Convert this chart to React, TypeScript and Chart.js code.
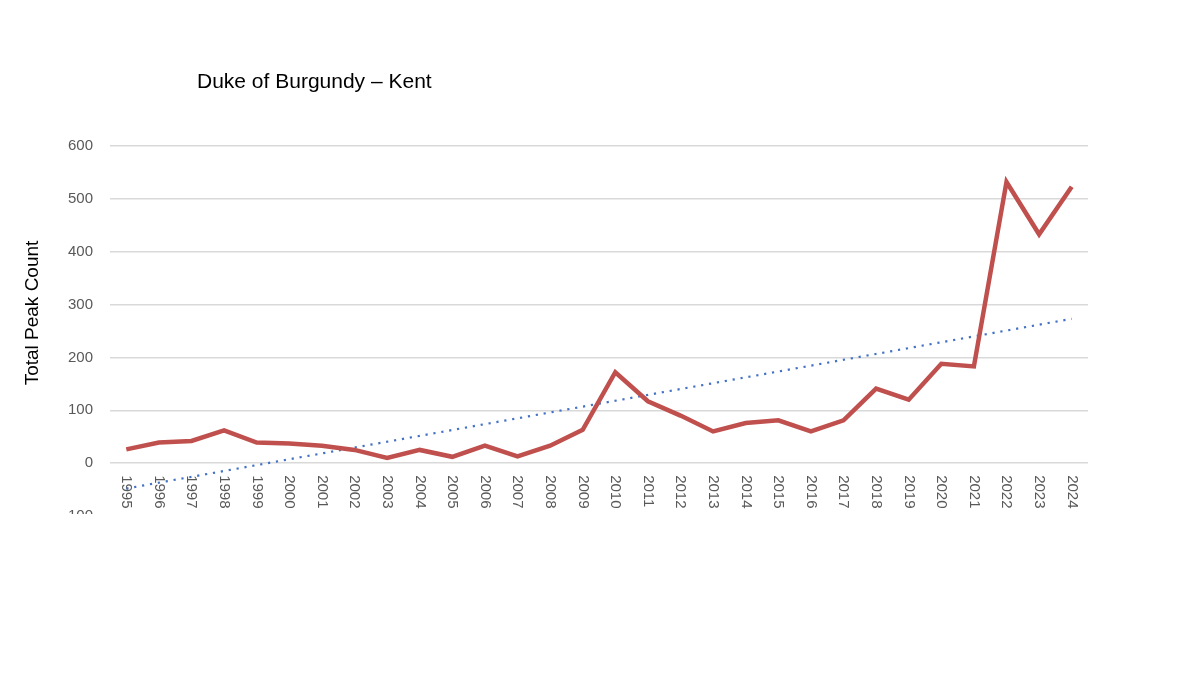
import React, { useEffect, useRef } from 'react';
import { Chart, registerables } from 'chart.js';

Chart.register(...registerables);

const years = [
  '1995', '1996', '1997', '1998', '1999', '2000', '2001', '2002', '2003', '2004',
  '2005', '2006', '2007', '2008', '2009', '2010', '2011', '2012', '2013', '2014',
  '2015', '2016', '2017', '2018', '2019', '2020', '2021', '2022', '2023', '2024',
];
const peakCounts = [
  26, 39, 42, 62, 39, 37, 33, 25, 10, 25,
  12, 33, 13, 33, 63, 172, 117, 90, 60, 76,
  81, 60, 81, 141, 120, 188, 183, 532, 433, 523,
];
// linear trend line, end points
const trendYears = ['1995', '2024'];
const trendValues = [-48, 273];

const chartTitle = 'Duke of Burgundy \u2013 Kent';
const yAxisTitle = 'Total Peak Count';

const labelFont = '15px "Liberation Sans", Arial, sans-serif';

const overlayPlugin = {
  id: 'overlay',
  beforeDatasetsDraw(chart: any) {
    const { ctx, scales } = chart;
    const x = scales.x;
    const y = scales.y;
    const y0 = y.getPixelForValue(0);
    ctx.save();
    ctx.fillStyle = '#595959';
    ctx.font = labelFont;
    ctx.textAlign = 'left';
    ctx.textBaseline = 'middle';
    years.forEach((yr, i) => {
      ctx.save();
      ctx.translate(x.getPixelForValue(i), y0 + 12);
      ctx.rotate(Math.PI / 2);
      ctx.fillText(yr, 0, 0);
      ctx.restore();
    });
    ctx.restore();
  },
  afterDraw(chart: any) {
    const { ctx } = chart;
    ctx.save();
    ctx.fillStyle = '#000000';
    ctx.font = '21px "Liberation Sans", Arial, sans-serif';
    ctx.textAlign = 'left';
    ctx.textBaseline = 'alphabetic';
    ctx.fillText(chartTitle, 197, 88);

    ctx.font = '19px "Liberation Sans", Arial, sans-serif';
    ctx.textAlign = 'center';
    ctx.textBaseline = 'middle';
    ctx.translate(33, 313);
    ctx.rotate(-Math.PI / 2);
    ctx.fillText(yAxisTitle, 0, 0);
    ctx.restore();
  },
};

const App: React.FC = () => {
  const canvasRef = useRef<HTMLCanvasElement | null>(null);

  useEffect(() => {
    const ctx = canvasRef.current?.getContext('2d');
    if (!ctx) return;

    const chart = new Chart(ctx, {
      type: 'line',
      data: {
        labels: years,
        datasets: [
          {
            label: 'Total Peak Count',
            data: peakCounts,
            borderColor: '#C0504D',
            borderWidth: 4.5,
            pointRadius: 0,
            tension: 0,
            fill: false,
          },
          {
            label: 'Linear trend',
            data: trendYears.map((yr, i) => ({ x: yr, y: trendValues[i] })) as any,
            borderColor: '#4472C4',
            borderWidth: 2.2,
            borderDash: [2.2, 5.8],
            pointRadius: 0,
            fill: false,
          },
        ],
      },
      options: {
        responsive: false,
        animation: false,
        devicePixelRatio: 1,
        layout: { padding: { left: 0, right: 112, top: 146, bottom: 44 } },
        plugins: {
          legend: { display: false },
          title: { display: false },
          tooltip: { enabled: false },
        },
        scales: {
          x: {
            offset: true,
            grid: { display: false, drawTicks: false },
            border: { display: false },
            ticks: { display: false },
          },
          y: {
            min: -100,
            max: 600,
            afterFit: (scale: any) => {
              scale.width = 110;
            },
            ticks: {
              stepSize: 100,
              padding: 17,
              color: '#595959',
              font: { family: '"Liberation Sans", Arial, sans-serif', size: 15 },
            },
            grid: { color: '#d9d9d9', lineWidth: 1.5, drawTicks: false },
            border: { display: false },
          },
        },
      },
      plugins: [overlayPlugin],
    });

    return () => {
      chart.destroy();
    };
  }, []);

  return (
    <div style={{ position: 'absolute', left: 0, top: 0, width: 1200, height: 514, overflow: 'hidden', background: '#fff' }}>
      <canvas ref={canvasRef} width={1200} height={560} style={{ width: 1200, height: 560 }}></canvas>
    </div>
  );
};

export default App;
